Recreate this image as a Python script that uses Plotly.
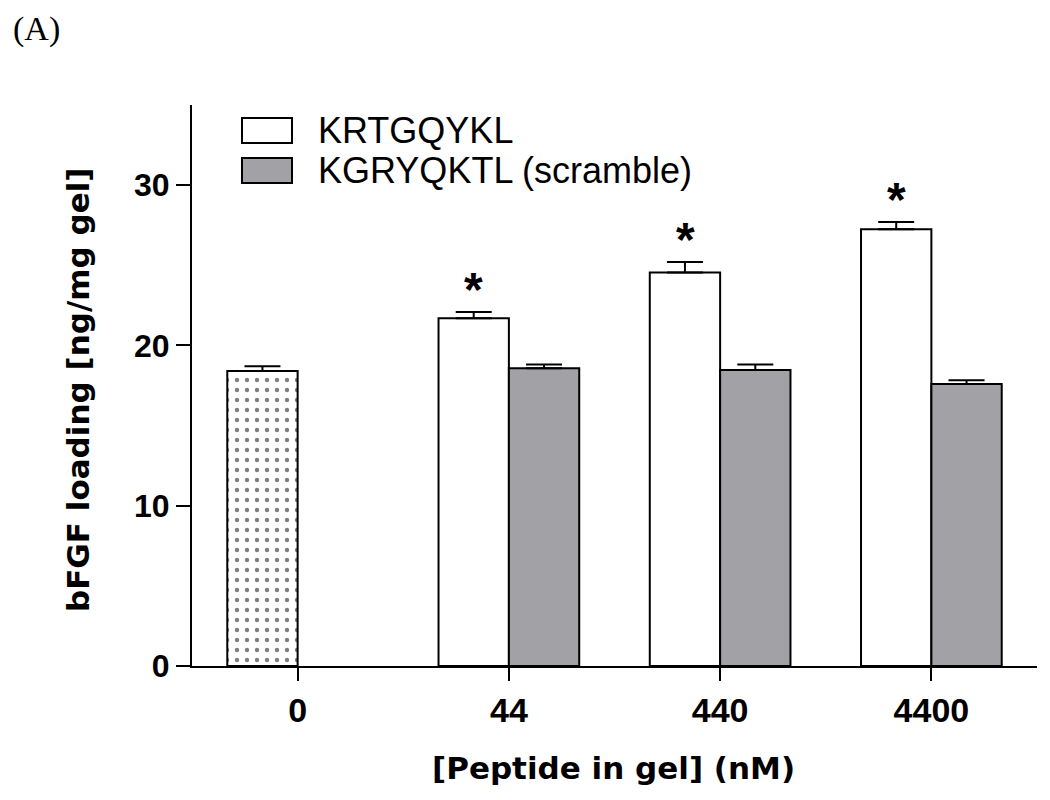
import plotly.graph_objects as go

# ---- data ----
categories = ["0", "44", "440", "4400"]
control_x = ["0"]
control_y = [18.4]
control_err = [0.3]

peptide_x = ["44", "440", "4400"]
krtgqykl_y = [21.7, 24.55, 27.25]
krtgqykl_err = [0.38, 0.66, 0.45]
scramble_y = [18.58, 18.46, 17.6]
scramble_err = [0.23, 0.35, 0.23]

series_names = ["KRTGQYKL", "KGRYQKTL (scramble)"]
significant = ["44", "440", "4400"]

# ---- layout helpers (page pixels -> paper) ----
W, H = 1050, 800
OFF = 8  # page body margin
PW, PH = 845, 561
ML, MT = 192 - OFF, 105 - OFF
MR, MB = W - ML - PW, H - MT - PH


def px(x):
    return (x - OFF - ML) / PW


def py(y):
    return (MT + PH - (y - OFF)) / PH


GRAY = "#a2a2a6"
SANS = "Liberation Sans, Arial, sans-serif"

err_style = dict(type="data", symmetric=False, color="black", thickness=2, width=18)

fig = go.Figure()
fig.add_trace(go.Bar(
    x=control_x, y=control_y, name="Control", offsetgroup="a",
    marker=dict(color="white", line=dict(color="black", width=2),
                pattern=dict(shape=".", fgcolor="black", bgcolor="white", size=10, solidity=0.15)),
    error_y=dict(array=control_err, arrayminus=[0] * len(control_err), **err_style),
    showlegend=False,
))
fig.add_trace(go.Bar(
    x=peptide_x, y=krtgqykl_y, name=series_names[0], offsetgroup="a",
    marker=dict(color="white", line=dict(color="black", width=2)),
    error_y=dict(array=krtgqykl_err, arrayminus=[0] * len(krtgqykl_err), **err_style),
    showlegend=False,
))
fig.add_trace(go.Bar(
    x=peptide_x, y=scramble_y, name=series_names[1], offsetgroup="b",
    marker=dict(color=GRAY, line=dict(color="black", width=2)),
    error_y=dict(array=scramble_err, arrayminus=[0] * len(scramble_err), **err_style),
    showlegend=False,
))

annotations = []
# significance asterisks above KRTGQYKL bars
for cat, v, e in zip(peptide_x, krtgqykl_y, krtgqykl_err):
    if cat in significant:
        annotations.append(dict(
            x=categories.index(cat), y=v + e + 1.4, xref="x", yref="y", text="*",
            showarrow=False, xshift=-35, yanchor="middle",
            font=dict(family=SANS, size=48, color="black", weight="bold"),
        ))

# manual legend
legend_boxes = [(118, 143, "white"), (158, 183, GRAY)]
shapes = []
for (y0, y1, col), name in zip(legend_boxes, series_names):
    shapes.append(dict(type="rect", xref="paper", yref="paper",
                       x0=px(242), x1=px(292), y0=py(y1), y1=py(y0),
                       fillcolor=col, line=dict(color="black", width=2)))
    annotations.append(dict(x=px(316), y=py((y0 + y1) / 2), xref="paper", yref="paper",
                            text=name, showarrow=False, xanchor="left", yanchor="middle",
                            font=dict(family=SANS, size=36, color="black")))

# axis titles
annotations.append(dict(x=px(613), y=py(768), xref="paper", yref="paper",
                        text="[Peptide in gel] (nM)", showarrow=False,
                        xanchor="center", yanchor="middle",
                        font=dict(family="DejaVu Sans", size=31, color="black", weight="bold")))
annotations.append(dict(x=px(78), y=py(390), xref="paper", yref="paper",
                        text="bFGF loading [ng/mg gel]", showarrow=False, textangle=-90,
                        xanchor="center", yanchor="middle",
                        font=dict(family="DejaVu Sans", size=31, color="black", weight="bold")))
# panel label
annotations.append(dict(x=px(11), y=py(29), xref="paper", yref="paper",
                        text="(A)", showarrow=False, xanchor="left", yanchor="middle",
                        font=dict(family="Liberation Serif, Times New Roman, serif", size=34, color="black")))

fig.update_layout(
    width=W, height=H,
    margin=dict(l=ML, r=MR, t=MT, b=MB),
    paper_bgcolor="white", plot_bgcolor="white",
    barmode="group", bargap=0.334, bargroupgap=0,
    shapes=shapes, annotations=annotations,
    showlegend=False,
)
fig.update_xaxes(
    type="category", categoryorder="array", categoryarray=categories,
    range=[-0.5, 3.5],
    showline=True, linecolor="black", linewidth=2,
    ticks="outside", ticklen=13, tickwidth=2, tickcolor="black",
    showgrid=False, zeroline=False,
    tickfont=dict(family=SANS, size=34, color="black", weight="bold"),
)
fig.update_yaxes(
    range=[0, 35], tickvals=[0, 10, 20, 30],
    showline=True, linecolor="black", linewidth=2,
    ticks="outside", ticklen=14, tickwidth=2, tickcolor="black",
    showgrid=False, zeroline=False,
    tickfont=dict(family=SANS, size=32, color="black", weight="bold"),
)

fig.write_html("out.html")
